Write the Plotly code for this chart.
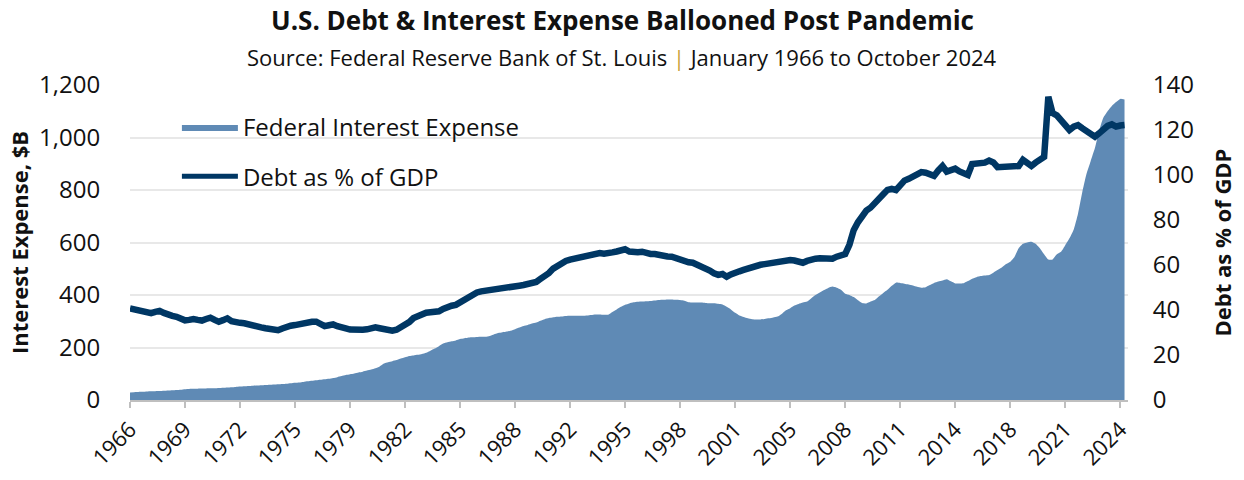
import pandas as pd
import plotly.graph_objects as go

# Quarterly periods, January 1966 to October 2024
quarters = pd.period_range("1966Q1", "2024Q4", freq="Q").to_timestamp()

# Federal interest expense, $B, Q1..Q4 per year
interest_expense = [
    29, 30, 30.5, 31,        # 1966
    32, 33, 33.5, 34,        # 1967
    35, 36, 37, 38,          # 1968
    39, 41, 42, 42.5,        # 1969
    43, 43.5, 44, 44.5,      # 1970
    45, 46, 47, 48,          # 1971
    49, 50, 51, 52,          # 1972
    53, 54, 55, 56,          # 1973
    57, 58, 59, 60,          # 1974
    61, 62, 64, 66,          # 1975
    67, 69, 71, 73,          # 1976
    75, 77, 79, 81,          # 1977
    84, 87, 91, 95,          # 1978
    98, 101, 105, 108,       # 1979
    112, 116, 121, 128,      # 1980
    139, 144, 148, 152,      # 1981
    158, 163, 168, 170,      # 1982
    172, 175, 180, 188,      # 1983
    196, 205, 215, 220,      # 1984
    224, 227, 232, 235,      # 1985
    238, 239, 240, 241,      # 1986
    241, 244, 250, 255,      # 1987
    258, 261, 264, 270,      # 1988
    276, 282, 286, 291,      # 1989
    295, 302, 308, 312,      # 1990
    315, 317, 318, 320,      # 1991
    321, 321, 321, 321,      # 1992
    322, 324, 326, 326,      # 1993
    325, 325, 335, 345,      # 1994
    355, 363, 368, 372,      # 1995
    374, 375, 376, 377,      # 1996
    379, 381, 382, 383,      # 1997
    383, 382, 381, 378,      # 1998
    372, 371, 371, 371,      # 1999
    370, 369, 369, 367,      # 2000
    364, 355, 345, 332,      # 2001
    322, 316, 311, 308,      # 2002
    307, 307, 309, 311,      # 2003
    314, 318, 328, 342,      # 2004
    350, 360, 366, 371,      # 2005
    375, 388, 400, 410,      # 2006
    419, 427, 432, 428,      # 2007
    420, 405, 400, 392,      # 2008
    380, 370, 368, 375,      # 2009
    381, 395, 408, 420,      # 2010
    435, 447, 446, 443,      # 2011
    440, 436, 431, 428,      # 2012
    430, 438, 446, 451,      # 2013
    455, 460, 452, 444,      # 2014
    444, 445, 453, 462,      # 2015
    468, 472, 474, 476,      # 2016
    485, 495, 505, 518,      # 2017
    527, 545, 578, 595,      # 2018
    600, 603, 595, 578,      # 2019
    555, 535, 535, 555,      # 2020
    565, 590, 616, 650,      # 2021
    710, 790, 860, 910,      # 2022
    960, 1025, 1075, 1100,   # 2023
    1120, 1135, 1147, 1145,  # 2024
]

# Federal debt as % of GDP, Q1..Q4 per year
debt_pct_gdp = [
    40.7, 40.3, 40.0, 39.8,      # 1966
    39.7, 38.6, 39.2, 39.6,      # 1967
    38.7, 37.8, 37.4, 37.0,      # 1968
    36.4, 35.4, 35.6, 36.0,      # 1969
    35.6, 35.3, 36.0, 36.6,      # 1970
    35.6, 34.8, 35.5, 36.3,      # 1971
    35.0, 34.4, 34.3, 34.1,      # 1972
    33.5, 33.0, 32.6, 32.3,      # 1973
    31.9, 31.5, 30.9, 31.0,      # 1974
    31.8, 32.6, 33.0, 33.3,      # 1975
    33.8, 34.2, 34.8, 34.8,      # 1976
    34.8, 33.8, 32.8, 33.2,      # 1977
    33.6, 32.8, 32.0, 31.8,      # 1978
    31.3, 31.1, 31.1, 31.2,      # 1979
    31.4, 31.9, 32.3, 31.9,      # 1980
    31.4, 31.0, 30.8, 31.2,      # 1981
    32.2, 33.0, 34.6, 36.4,      # 1982
    37.3, 38.2, 38.8, 39.0,      # 1983
    39.2, 39.4, 40.5, 41.6,      # 1984
    41.9, 42.3, 43.4, 45.2,      # 1985
    46.0, 47.0, 47.8, 48.3,      # 1986
    48.5, 48.7, 48.9, 49.1,      # 1987
    49.5, 49.8, 50.2, 50.5,      # 1988
    50.8, 51.1, 51.4, 51.6,      # 1989
    52.5, 53.8, 55.0, 56.4,      # 1990
    58.4, 59.8, 61.0, 61.8,      # 1991
    62.4, 62.9, 63.4, 63.9,      # 1992
    64.5, 65.0, 65.5, 65.3,      # 1993
    65.0, 65.0, 65.6, 66.0,      # 1994
    66.3, 67.0, 66.0, 65.5,      # 1995
    65.7, 65.9, 65.3, 64.9,      # 1996
    64.9, 64.4, 63.9, 63.8,      # 1997
    63.7, 63.0, 62.2, 61.8,      # 1998
    61.2, 61.0, 60.2, 59.6,      # 1999
    58.4, 57.5, 56.3, 55.6,      # 2000
    56.0, 54.8, 55.8, 56.8,      # 2001
    57.2, 57.8, 58.5, 59.2,      # 2002
    59.8, 60.1, 60.4, 60.8,      # 2003
    61.2, 61.5, 61.7, 61.9,      # 2004
    62.2, 62.0, 61.3, 61.0,      # 2005
    61.8, 62.5, 62.8, 63.0,      # 2006
    63.0, 62.5, 62.8, 63.7,      # 2007
    64.2, 64.9, 69.0, 75.5,      # 2008
    79.0, 82.0, 84.2, 85.5,      # 2009
    87.2, 89.5, 91.4, 93.4,      # 2010
    93.8, 93.3, 95.5, 97.5,      # 2011
    98.3, 99.2, 100.2, 101.3,    # 2012
    101.0, 100.3, 99.6, 102.0,   # 2013
    104.0, 101.5, 102.2, 102.8,  # 2014
    101.6, 100.4, 100.0, 104.9,  # 2015
    105.0, 104.9, 105.5, 106.4,  # 2016
    105.6, 103.5, 103.6, 104.0,  # 2017
    104.2, 104.4, 104.0, 106.7,  # 2018
    105.0, 104.0, 105.5, 106.5,  # 2019
    108.0, 134.8, 127.5, 126.5,  # 2020
    124.5, 122.0, 120.0, 121.5,  # 2021
    122.2, 120.8, 119.6, 118.3,  # 2022
    117.0, 118.5, 120.5, 121.8,  # 2023
    122.5, 121.5, 122.0, 122.2,  # 2024
]

# Tick labels every 13 quarters
tick_idx = list(range(0, 236, 13))
tick_labels = ["1966", "1969", "1972", "1975", "1979", "1982", "1985", "1988",
               "1992", "1995", "1998", "2001", "2005", "2008", "2011", "2014",
               "2018", "2021", "2024"]

FONT = "Open Sans"
AREA = "#5f8ab5"
LINE = "#003764"
GRID = "#e8e8e8"
AXIS = "#bfbfbf"

fig = go.Figure()
fig.add_trace(go.Scatter(
    x=quarters, y=interest_expense, name="Federal Interest Expense",
    mode="lines", fill="tozeroy", fillcolor=AREA,
    line=dict(width=0, color=AREA, shape="spline", smoothing=0.5),
    legendgroup="a", yaxis="y",
))
fig.add_trace(go.Scatter(
    x=quarters, y=debt_pct_gdp, name="Debt as % of GDP",
    mode="lines", line=dict(width=6.5, color=LINE),
    legendgroup="b", yaxis="y2",
))

fig.update_layout(
    width=1244, height=480,
    margin=dict(l=130, r=116, t=85, b=80),
    paper_bgcolor="white", plot_bgcolor="white",
    font=dict(family=FONT, color="#111111", size=20),
    showlegend=True,
    legend=dict(
        x=0.047, y=0.937, xanchor="left", yanchor="top",
        bgcolor="rgba(0,0,0,0)", font=dict(size=24, family=FONT),
        itemwidth=56, tracegroupgap=15, itemsizing="constant",
    ),
    xaxis=dict(
        type="date",
        range=[quarters[0], pd.Timestamp("2024-12-15")],
        tickmode="array",
        tickvals=[quarters[i] for i in tick_idx],
        ticktext=tick_labels,
        tickangle=-45,
        ticks="outside", ticklen=6, tickwidth=1.5, tickcolor=AXIS,
        showline=True, linecolor=AXIS, linewidth=2,
        showgrid=False, zeroline=False,
        tickfont=dict(size=22, family=FONT),
        automargin=False,
    ),
    yaxis=dict(
        range=[0, 1200], dtick=200, tickformat=",",
        showgrid=True, gridcolor=GRID, gridwidth=1.5,
        zeroline=False, showline=False,
        ticks="outside", ticklen=24, tickcolor="rgba(0,0,0,0)",
        tickfont=dict(size=24, family=FONT),
        title=dict(text="<b>Interest Expense, $B</b>", font=dict(size=22, family=FONT), standoff=4),
        automargin=False,
    ),
    yaxis2=dict(
        range=[0, 140], dtick=20, overlaying="y", side="right",
        showgrid=False, zeroline=False, showline=False,
        ticks="outside", ticklen=19, tickcolor="rgba(0,0,0,0)",
        tickfont=dict(size=24, family=FONT),
        title=dict(text="<b>Debt as % of GDP</b>", font=dict(size=22, family=FONT), standoff=22),
        automargin=False,
    ),
)

fig.add_annotation(
    text="<b>U.S. Debt & Interest Expense Ballooned Post Pandemic</b>",
    xref="paper", yref="paper", x=0.493, y=1.206, xanchor="center", yanchor="middle",
    showarrow=False, font=dict(size=26, family=FONT, color="#111111"),
)
fig.add_annotation(
    text="Source: Federal Reserve Bank of St. Louis <span style='color:#c9a23a'>|</span> January 1966 to October 2024",
    xref="paper", yref="paper", x=0.493, y=1.089, xanchor="center", yanchor="middle",
    showarrow=False, font=dict(size=22, family=FONT, color="#111111"),
)

fig.write_html("out.html", config={"displayModeBar": False},
               post_script="document.body.style.margin='0';")
